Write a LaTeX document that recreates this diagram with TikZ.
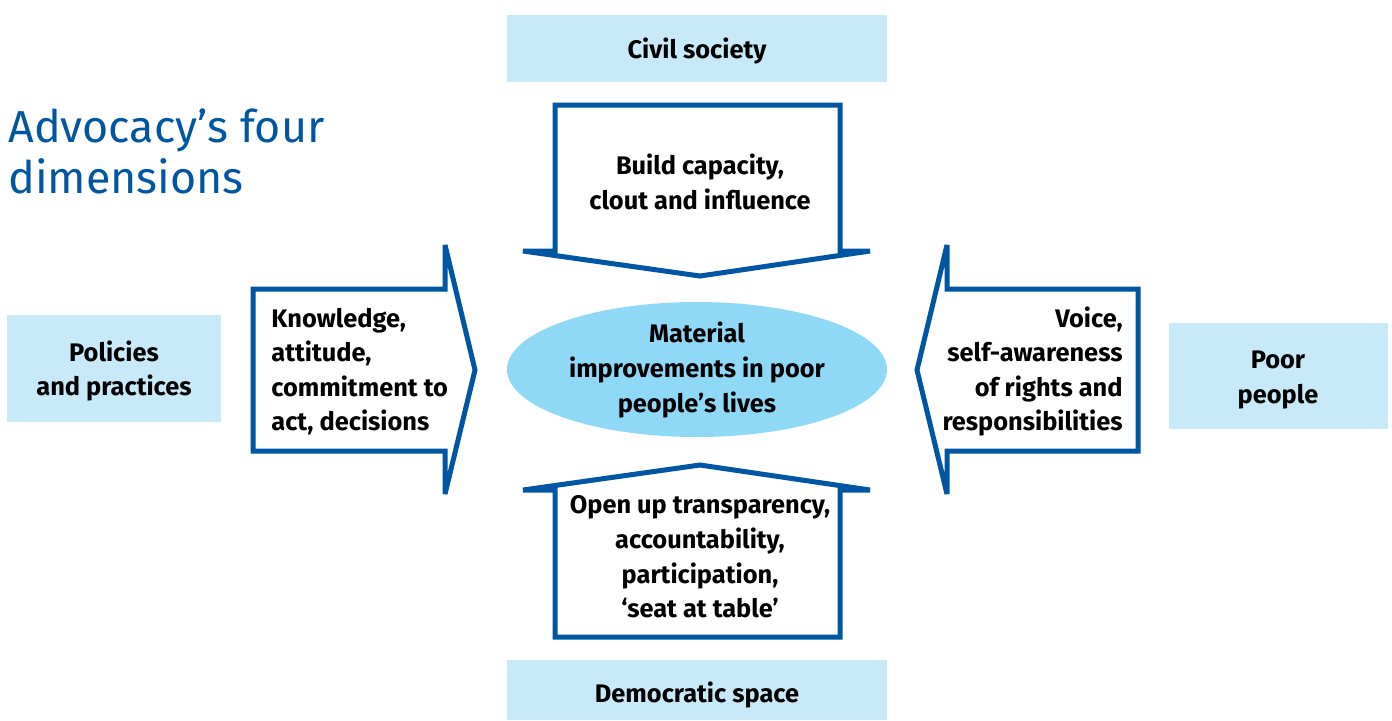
\documentclass[tikz,border=0pt]{standalone}
\usepackage{fontspec}
\setmainfont{Fira Sans}
\usetikzlibrary{positioning}
\usetikzlibrary{shapes.geometric}
\tikzset{dimbox/.style = {fill=mpale}}
\tikzset{dimtext/.style = {font=\bfseries\fontsize{12.7}{17.3}\selectfont,
                           inner sep=0pt}}
\tikzset{blockarrow/.style = {draw=mblue, fill=white, line width=2.5pt,
                              miter limit=5}}
\definecolor{mblue}{HTML}{0056A2}
\definecolor{mpale}{HTML}{C8E9F8}
\definecolor{msky}{HTML}{8FD8F6}

\begin{document}
\begin{tikzpicture}[x=0.5pt, y=-0.5pt]
    \useasboundingbox (0, 0) rectangle (1392, 720);

    \node [anchor=base west, align=left, inner sep=0pt, text=mblue,
           font=\fontsize{22.4}{25.5}\selectfont] (title) at (8, 193)
          {Advocacy’s four\\dimensions};

    \fill [dimbox] (507, 15) rectangle (887, 82);
    \fill [dimbox] (7, 315) rectangle (221, 422);
    \fill [dimbox] (1169, 323) rectangle (1388, 429);
    \fill [dimbox] (507, 660) rectangle (887, 720);

    \node [dimtext] (civil) at (697, 51) {Civil society};
    \node [dimtext, align=center] (policies) at (114, 371) {Policies\\and practices};
    \node [dimtext, align=center] (poor) at (1278, 380) {Poor\\people};
    \node [dimtext] (democratic) at (697, 695) {Democratic space};

    \draw [blockarrow] (555, 105) -- (840, 105) -- (840, 251) -- (870, 251)
          -- (700, 276) -- (523, 251) -- (555, 251) -- cycle;
    \draw [blockarrow] (253, 289) -- (445, 289) -- (445, 245) -- (475, 370)
          -- (445, 494) -- (445, 451) -- (253, 451) -- cycle;
    \draw [blockarrow] (1138, 289) -- (947, 289) -- (947, 245) -- (917, 370)
          -- (947, 494) -- (947, 451) -- (1138, 451) -- cycle;
    \draw [blockarrow] (555, 637) -- (840, 637) -- (840, 490) -- (870, 490)
          -- (700, 465) -- (523, 490) -- (555, 490) -- cycle;

    \node [ellipse, fill=msky, minimum width=190pt, minimum height=67.5pt]
          (goal) at (697, 369.5) {};
    \node [dimtext, align=center] (goaltext) at (697, 370)
          {Material\\improvements in poor\\people’s lives};

    \node [dimtext, align=center] (capacity) at (700, 182)
          {Build capacity,\\clout and influence};
    \node [dimtext, align=left, anchor=west] (knowledge) at (271, 371.5)
          {Knowledge,\\attitude,\\commitment to\\act, decisions};
    \node [dimtext, align=right, anchor=east] (voice) at (1123, 371.5)
          {Voice,\\self-awareness\\of rights and\\responsibilities};
    \node [dimtext, align=center] (transparency) at (700, 557)
          {Open up transparency,\\accountability,\\participation,\\‘seat at table’};
\end{tikzpicture}
\end{document}
